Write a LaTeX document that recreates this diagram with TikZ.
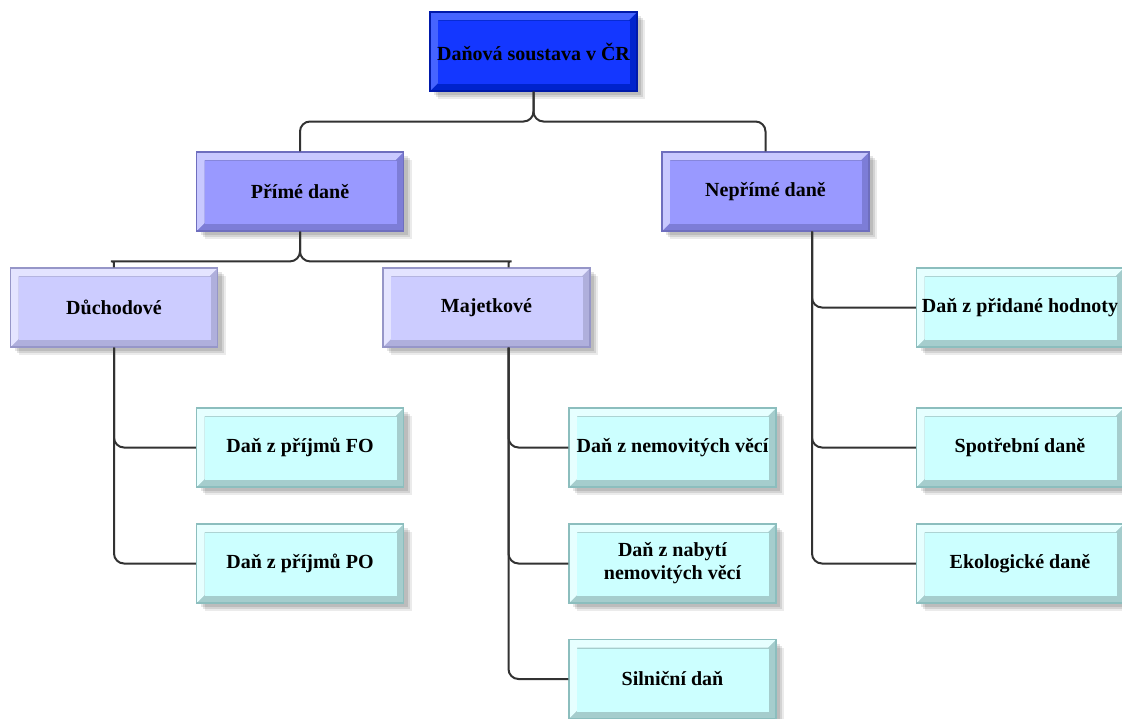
\documentclass[tikz,border=0pt]{standalone}
\usepackage{fontspec}
\setmainfont{Liberation Serif}
\usetikzlibrary{shadows,calc}
\definecolor{tBorder}{RGB}{0,25,170}
\definecolor{tDark}{RGB}{0,35,205}
\definecolor{tLight}{RGB}{70,100,255}
\definecolor{tFace}{RGB}{20,55,255}
\definecolor{pBorder}{RGB}{110,110,190}
\definecolor{pDark}{RGB}{125,125,215}
\definecolor{pLight}{RGB}{200,200,255}
\definecolor{pFace}{RGB}{153,153,255}
\definecolor{mBorder}{RGB}{150,150,200}
\definecolor{mDark}{RGB}{175,175,220}
\definecolor{mLight}{RGB}{228,228,255}
\definecolor{mFace}{RGB}{204,204,255}
\definecolor{lBorder}{RGB}{140,190,190}
\definecolor{lDark}{RGB}{165,205,205}
\definecolor{lLight}{RGB}{230,255,255}
\definecolor{lFace}{RGB}{204,255,255}
\definecolor{wire}{RGB}{50,50,50}
\def\pb{path picture bounding box}
\tikzset{
  shadowy/.style={
    drop shadow={shadow xshift=4pt,shadow yshift=-4pt,fill=black,opacity=.10},
    drop shadow={shadow xshift=6pt,shadow yshift=-6pt,fill=black,opacity=.10},
    drop shadow={shadow xshift=8pt,shadow yshift=-8pt,fill=black,opacity=.08}},
  bevelbox/.style n args={4}{draw=#1, fill=#2, line width=1.2pt,
    minimum width=207pt, minimum height=79pt, inner sep=0pt,
    font=\bfseries\fontsize{20}{23}\selectfont, align=center, shadowy,
    path picture={
      \fill[#3] (\pb.north west) -- (\pb.north east) -- ([shift={(-8pt,-8pt)}]\pb.north east)
        -- ([shift={(8pt,-8pt)}]\pb.north west) -- ([shift={(8pt,8pt)}]\pb.south west)
        -- (\pb.south west) -- cycle;
      \fill[#4] ([shift={(8pt,-9pt)}]\pb.north west) rectangle ([shift={(-7pt,7pt)}]\pb.south east);
    }},
  topbox/.style={bevelbox={tBorder}{tDark}{tLight}{tFace}},
  midbox/.style={bevelbox={pBorder}{pDark}{pLight}{pFace}},
  lowbox/.style={bevelbox={mBorder}{mDark}{mLight}{mFace}},
  leafbox/.style={bevelbox={lBorder}{lDark}{lLight}{lFace}},
  wireline/.style={draw=wire, line width=2pt, rounded corners=10pt}
}
\begin{document}
\begin{tikzpicture}[x=1pt,y=-1pt]
\useasboundingbox[fill=white] (0,0) rectangle (1122,718);
\node[topbox] (top) at (533.5,51.5) {Daňová soustava v ČR};
\node[midbox] (prime) at (300,191.5) {Přímé daně};
\node[midbox] (neprime) at (765.5,191.5) {Nepřímé daně};
\node[lowbox] (duch) at (114,307.5) {Důchodové};
\node[lowbox] (maj) at (486.5,307.5) {Majetkové};
\node[leafbox] (fo) at (300,447.5) {Daň z příjmů FO};
\node[leafbox] (po) at (300,563.5) {Daň z příjmů PO};
\node[leafbox] (nemov) at (672.5,447.5) {Daň z nemovitých věcí};
\node[leafbox] (nabyti) at (672.5,563.5) {Daň z nabytí\\nemovitých věcí};
\node[leafbox] (silnice) at (672.5,679) {Silniční daň};
\node[leafbox] (dph) at (1020,307.5) {Daň z přidané hodnoty};
\node[leafbox] (spotreb) at (1020,447.5) {Spotřební daně};
\node[leafbox] (eko) at (1020,563.5) {Ekologické daně};
% anchor points for the off-centre connectors
\coordinate (majin) at ([xshift=22pt]maj.north);
\coordinate (majout) at ([xshift=22pt]maj.south);
\coordinate (nepout) at ([xshift=46.5pt]neprime.south);
% top level
\draw[wireline] (top.south) |- ($(top.south)!.5!(prime.north)$) -| (prime.north);
\draw[wireline] (top.south) |- ($(top.south)!.5!(neprime.north)$) -| (neprime.north);
% second level
\draw[wireline] (prime.south) |- ($(duch.north)+(7,-6)$) [sharp corners]
  .. controls ($(duch.north)+(0,-6)$) .. (duch.north);
\draw[wireline] (prime.south) |- ($(majin)+(-7,-6)$) [sharp corners]
  .. controls ($(majin)+(0,-6)$) .. (majin);
% leaves
\draw[wireline] (duch.south) |- (fo.west);
\draw[wireline] (duch.south) |- (po.west);
\draw[wireline] (majout) |- (nemov.west);
\draw[wireline] (majout) |- (nabyti.west);
\draw[wireline] (majout) |- (silnice.west);
\draw[wireline] (nepout) |- (dph.west);
\draw[wireline] (nepout) |- (spotreb.west);
\draw[wireline] (nepout) |- (eko.west);
\end{tikzpicture}
\end{document}
